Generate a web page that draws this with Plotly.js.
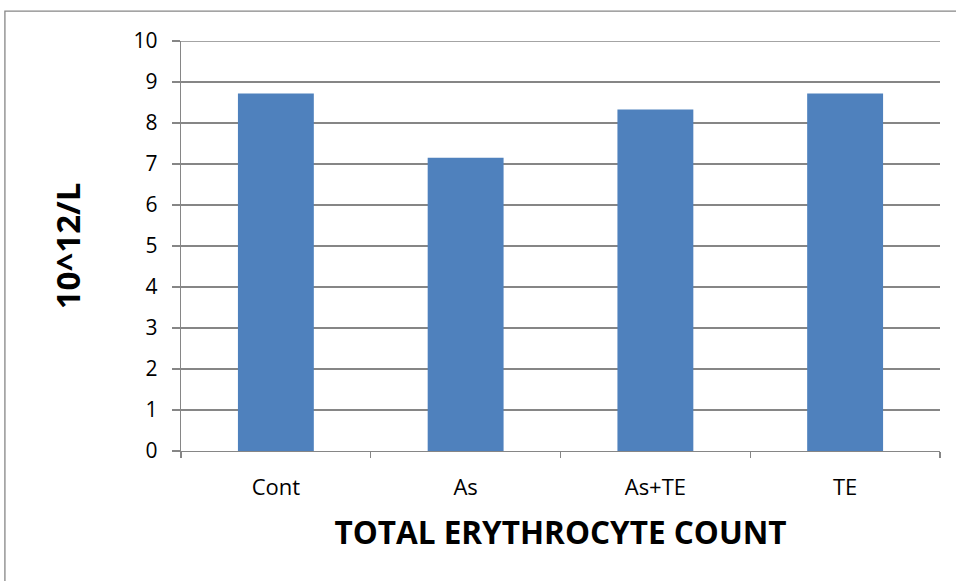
<!DOCTYPE html>
<html>
<head>
<meta charset="utf-8">
<script src="https://cdn.plot.ly/plotly-3.0.1.min.js"></script>
<style>html,body{margin:0;padding:0;background:#fff;}#chart{width:956px;height:581px;}</style>
</head>
<body>
<div id="chart"></div>
<script>
var categories = ["Cont", "As", "As+TE", "TE"];
var values = [8.72, 7.15, 8.33, 8.72];
var yTicks = [0, 1, 2, 3, 4, 5, 6, 7, 8, 9, 10];
var xTitle = "TOTAL ERYTHROCYTE COUNT";
var yTitle = "10^12/L";

var trace = {
  type: "bar",
  x: categories,
  y: values,
  marker: {color: "#4F81BD", line: {width: 0}},
  hoverinfo: "skip"
};

var yMax = yTicks[yTicks.length - 1];
var gridColor = "#868686";

var layout = {
  width: 956,
  height: 581,
  margin: {l: 181, r: 16, t: 41, b: 130},
  paper_bgcolor: "#ffffff",
  plot_bgcolor: "#ffffff",
  showlegend: false,
  bargap: 0.6,
  font: {family: "Open Sans, Liberation Sans, sans-serif", color: "#000"},
  xaxis: {
    type: "category",
    showgrid: false,
    showline: true,
    linecolor: gridColor,
    linewidth: 1.3,
    ticks: "outside",
    tickson: "boundaries",
    ticklen: 6,
    tickcolor: gridColor,
    tickwidth: 1.3,
    ticklabelstandoff: 16,
    tickfont: {size: 22, family: "Open Sans, sans-serif"},
    title: {text: xTitle, font: {size: 31.5, family: "Open Sans, sans-serif", weight: "bold"}, standoff: 22},
    zeroline: false
  },
  yaxis: {
    range: [0, yMax],
    tickvals: yTicks,
    ticktext: yTicks.map(String),
    showgrid: true,
    gridcolor: gridColor,
    gridwidth: 1.3,
    showline: true,
    linecolor: gridColor,
    linewidth: 1.3,
    ticks: "outside",
    ticklen: 8,
    tickcolor: gridColor,
    tickwidth: 1.3,
    ticklabelstandoff: 10,
    tickfont: {size: 21, family: "Open Sans, sans-serif"},
    title: {text: yTitle, font: {size: 33, family: "Open Sans, sans-serif", weight: "bold"}, standoff: 43},
    zeroline: false
  },
  shapes: [{
    type: "rect",
    xref: "paper", yref: "paper",
    x0: -0.232, x1: 1.2, y0: -0.6, y1: 1.073,
    line: {color: gridColor, width: 1.3},
    fillcolor: "rgba(0,0,0,0)",
    layer: "below"
  }, {
    type: "line",
    xref: "paper", yref: "y",
    x0: -0.0105, x1: 1, y0: yMax, y1: yMax,
    line: {color: gridColor, width: 1.3},
    layer: "below"
  }]
};

Plotly.newPlot("chart", [trace], layout, {displayModeBar: false, staticPlot: true});
</script>
</body>
</html>
